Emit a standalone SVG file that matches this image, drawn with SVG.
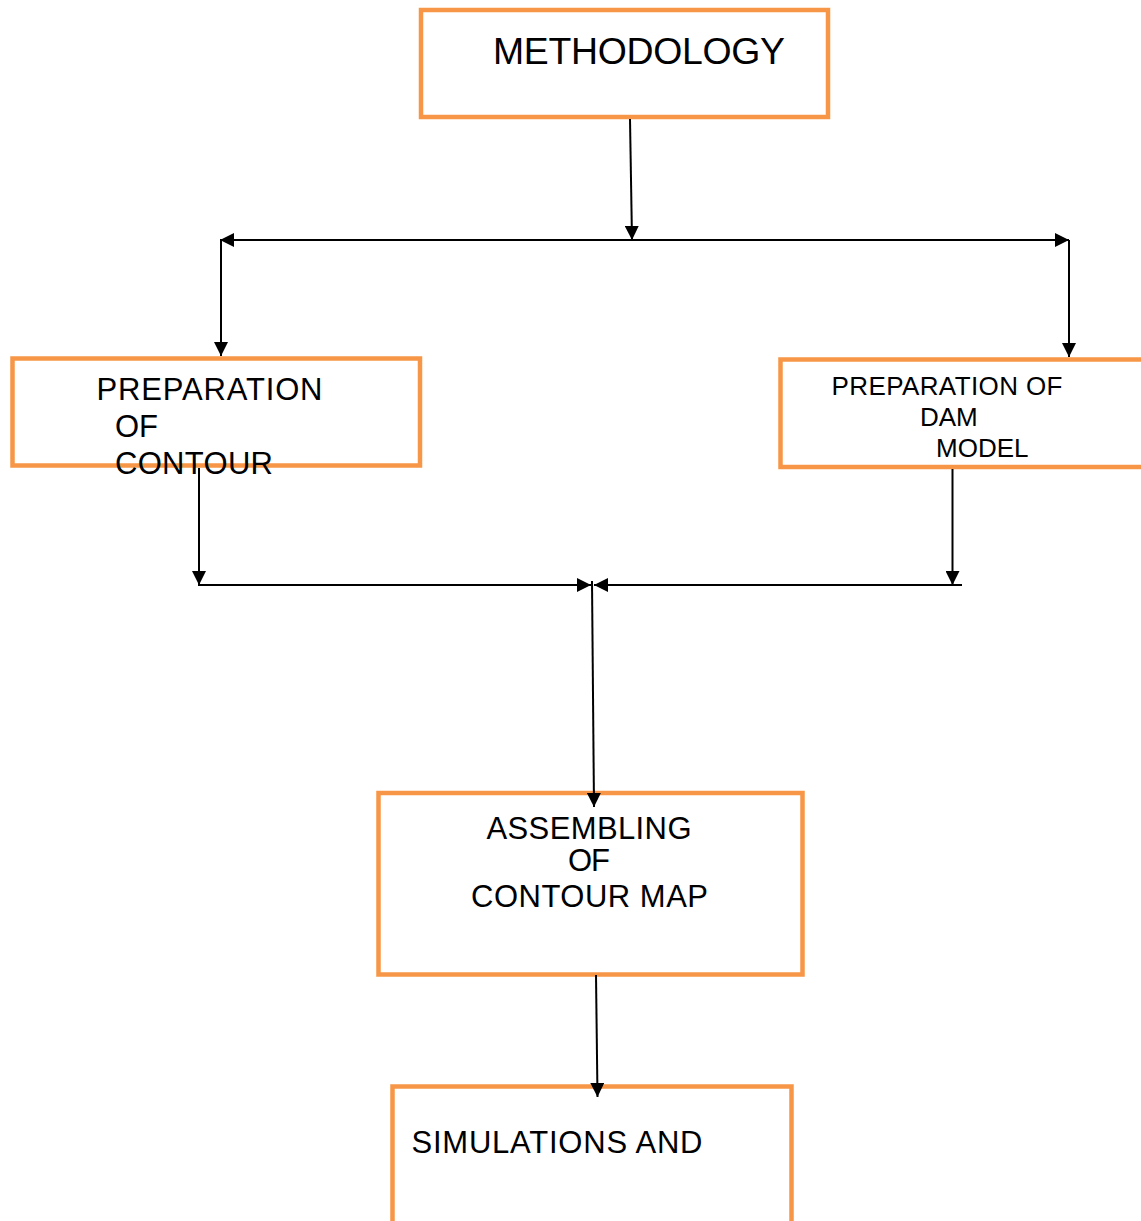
<svg xmlns="http://www.w3.org/2000/svg" width="1141" height="1221" viewBox="0 0 1141 1221">
  <style>
    .box { fill: #ffffff; stroke: #F79646; stroke-width: 4.5; }
    .lbl { font-family: "Liberation Sans", Arial, sans-serif; fill: #000000; }
    .wire { fill: none; stroke: #000000; stroke-width: 2; }
  </style>
  <defs>
    <marker id="arrow" markerUnits="userSpaceOnUse" markerWidth="14" markerHeight="14" viewBox="0 0 14 14" refX="14" refY="7" orient="auto">
      <path d="M0,0 L14,7 L0,14 Z" fill="#000000"/>
    </marker>
  </defs>

  <rect width="1141" height="1221" fill="#ffffff"/>

  <g id="node-methodology">
    <rect class="box" x="421" y="10" width="407" height="107"/>
    <text class="lbl" x="493" y="64" font-size="37.4" textLength="292" lengthAdjust="spacing">METHODOLOGY</text>
  </g>

  <g id="node-contour">
    <rect class="box" x="12.5" y="358.5" width="407.5" height="107"/>
  </g>

  <g id="node-dam">
    <rect class="box" x="780.5" y="359.5" width="420" height="107.5"/>
    <text class="lbl" font-size="26">
      <tspan x="831.5" y="395" textLength="231" lengthAdjust="spacing">PREPARATION OF</tspan>
      <tspan x="920" y="426">DAM</tspan>
      <tspan x="936" y="457">MODEL</tspan>
    </text>
  </g>

  <g id="node-assembling">
    <rect class="box" x="378.5" y="793" width="424" height="181.5"/>
    <text class="lbl" font-size="31">
      <tspan x="486.5" y="839" textLength="205" lengthAdjust="spacing">ASSEMBLING</tspan>
      <tspan x="568" y="871" textLength="42" lengthAdjust="spacing">OF</tspan>
      <tspan x="471" y="907" textLength="237" lengthAdjust="spacing">CONTOUR MAP</tspan>
    </text>
  </g>

  <g id="node-simulations">
    <rect class="box" x="392.5" y="1086.5" width="399" height="160"/>
    <text class="lbl" x="411.5" y="1153" font-size="31" textLength="291" lengthAdjust="spacing">SIMULATIONS AND</text>
  </g>

  <g id="connectors">
    <!-- methodology down to the split bar -->
    <line class="wire" x1="630" y1="119" x2="632" y2="240" marker-end="url(#arrow)"/>
    <!-- split bar with arrows to both sides -->
    <line class="wire" x1="632" y1="240" x2="220" y2="240" marker-end="url(#arrow)"/>
    <line class="wire" x1="632" y1="240" x2="1069" y2="240" marker-end="url(#arrow)"/>
    <line class="wire" x1="221" y1="240" x2="221" y2="356" marker-end="url(#arrow)"/>
    <line class="wire" x1="1069" y1="240" x2="1069" y2="357" marker-end="url(#arrow)"/>
    <!-- branches down to the merge bar -->
    <line class="wire" x1="199" y1="468" x2="199" y2="585" marker-end="url(#arrow)"/>
    <line class="wire" x1="952.5" y1="469" x2="952.5" y2="585" marker-end="url(#arrow)"/>
    <line class="wire" x1="198" y1="585" x2="591" y2="585" marker-end="url(#arrow)"/>
    <line class="wire" x1="962" y1="585" x2="594" y2="585" marker-end="url(#arrow)"/>
    <!-- merge down to assembling -->
    <line class="wire" x1="592" y1="581" x2="594" y2="807" marker-end="url(#arrow)"/>
    <!-- assembling down to simulations -->
    <line class="wire" x1="596" y1="975" x2="597.5" y2="1097" marker-end="url(#arrow)"/>
  </g>

  <!-- contour label drawn last: its bottom line runs over the box edge -->
  <text class="lbl" font-size="31">
    <tspan x="96.5" y="400" textLength="226" lengthAdjust="spacing">PREPARATION</tspan>
    <tspan x="115" y="437">OF</tspan>
    <tspan x="115" y="474" textLength="158" lengthAdjust="spacing">CONTOUR</tspan>
  </text>
</svg>
